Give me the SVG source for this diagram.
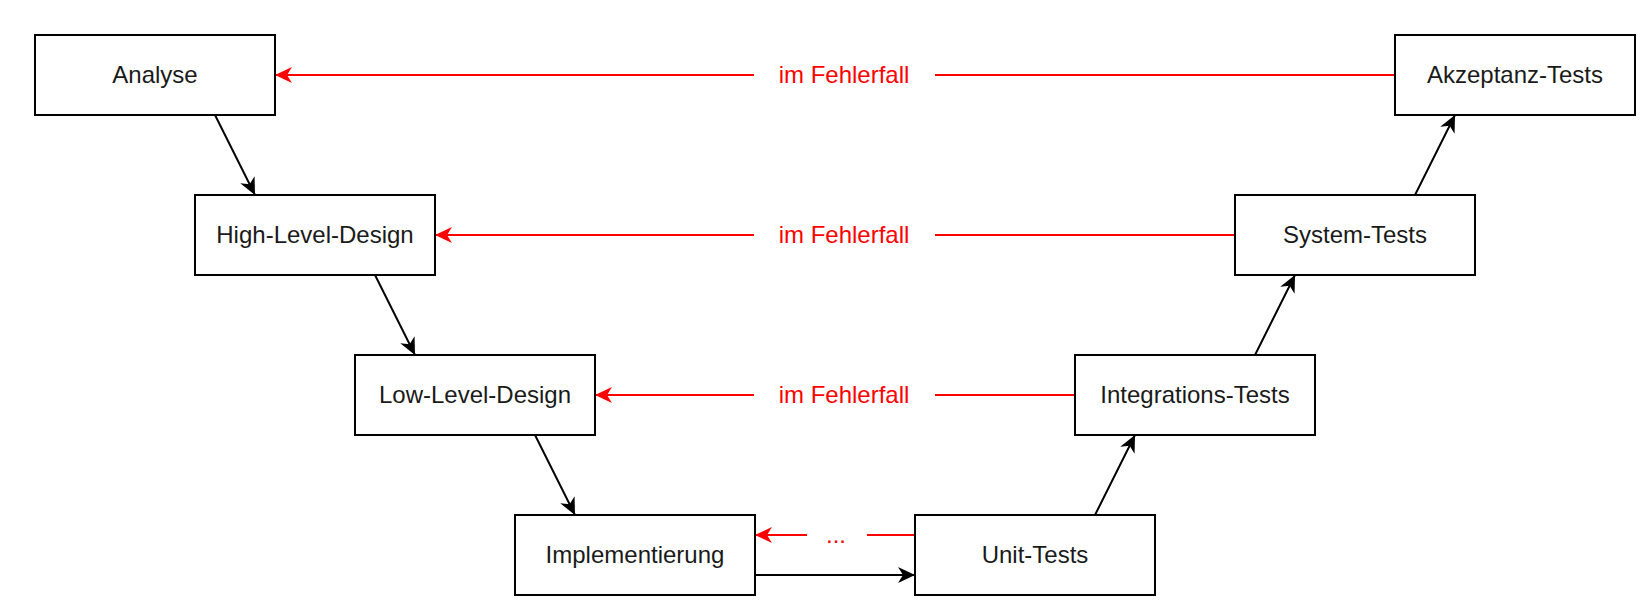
<svg xmlns="http://www.w3.org/2000/svg" width="1642" height="604" viewBox="0 0 1642 604">
<style>
.box{fill:#fff;stroke:#000;stroke-width:2}
.lbl{font-family:"Liberation Sans",Arial,sans-serif;font-size:24px;fill:#1a1a1a;text-anchor:middle}
.red{font-family:"Liberation Sans",Arial,sans-serif;font-size:24px;fill:#ff0000;text-anchor:middle}
.blk{stroke:#000;stroke-width:2;fill:none}
.rd{stroke:#ff0000;stroke-width:2;fill:none}
</style>
<defs>
<marker id="ab" markerUnits="userSpaceOnUse" markerWidth="20" markerHeight="20" viewBox="-18 -9 20 18" refX="0" refY="0" orient="auto">
<path d="M0,0 L-17,-8 L-12,0 L-17,8 Z" fill="#000"/>
</marker>
<marker id="ar" markerUnits="userSpaceOnUse" markerWidth="20" markerHeight="20" viewBox="-18 -9 20 18" refX="0" refY="0" orient="auto">
<path d="M0,0 L-17,-8 L-12,0 L-17,8 Z" fill="#ff0000"/>
</marker>
</defs>
<g id="connectors">
<line class="blk" x1="215" y1="115" x2="255" y2="195" marker-end="url(#ab)"/>
<line class="blk" x1="375" y1="275" x2="415" y2="355" marker-end="url(#ab)"/>
<line class="blk" x1="535" y1="435" x2="575" y2="515" marker-end="url(#ab)"/>
<line class="blk" x1="755" y1="575" x2="915" y2="575" marker-end="url(#ab)"/>
<line class="blk" x1="1095" y1="515" x2="1135" y2="435" marker-end="url(#ab)"/>
<line class="blk" x1="1255" y1="355" x2="1295" y2="275" marker-end="url(#ab)"/>
<line class="blk" x1="1415" y1="195" x2="1455" y2="115" marker-end="url(#ab)"/>
<line class="rd" x1="1395" y1="75" x2="935" y2="75"/>
<line class="rd" x1="754" y1="75" x2="275" y2="75" marker-end="url(#ar)"/>
<text class="red" x="844" y="83">im Fehlerfall</text>
<line class="rd" x1="1235" y1="235" x2="935" y2="235"/>
<line class="rd" x1="754" y1="235" x2="435" y2="235" marker-end="url(#ar)"/>
<text class="red" x="844" y="243">im Fehlerfall</text>
<line class="rd" x1="1075" y1="395" x2="935" y2="395"/>
<line class="rd" x1="754" y1="395" x2="595" y2="395" marker-end="url(#ar)"/>
<text class="red" x="844" y="403">im Fehlerfall</text>
<line class="rd" x1="915" y1="535" x2="867" y2="535"/>
<line class="rd" x1="807" y1="535" x2="755" y2="535" marker-end="url(#ar)"/>
<text class="red" x="836" y="543">...</text>
</g>
<g id="analyse"><rect class="box" x="35" y="35" width="240" height="80"/><text class="lbl" x="155" y="83">Analyse</text></g>
<g id="hld"><rect class="box" x="195" y="195" width="240" height="80"/><text class="lbl" x="315" y="243">High-Level-Design</text></g>
<g id="lld"><rect class="box" x="355" y="355" width="240" height="80"/><text class="lbl" x="475" y="403">Low-Level-Design</text></g>
<g id="impl"><rect class="box" x="515" y="515" width="240" height="80"/><text class="lbl" x="635" y="563">Implementierung</text></g>
<g id="unit"><rect class="box" x="915" y="515" width="240" height="80"/><text class="lbl" x="1035" y="563">Unit-Tests</text></g>
<g id="integ"><rect class="box" x="1075" y="355" width="240" height="80"/><text class="lbl" x="1195" y="403">Integrations-Tests</text></g>
<g id="system"><rect class="box" x="1235" y="195" width="240" height="80"/><text class="lbl" x="1355" y="243">System-Tests</text></g>
<g id="akzeptanz"><rect class="box" x="1395" y="35" width="240" height="80"/><text class="lbl" x="1515" y="83">Akzeptanz-Tests</text></g>
</svg>
